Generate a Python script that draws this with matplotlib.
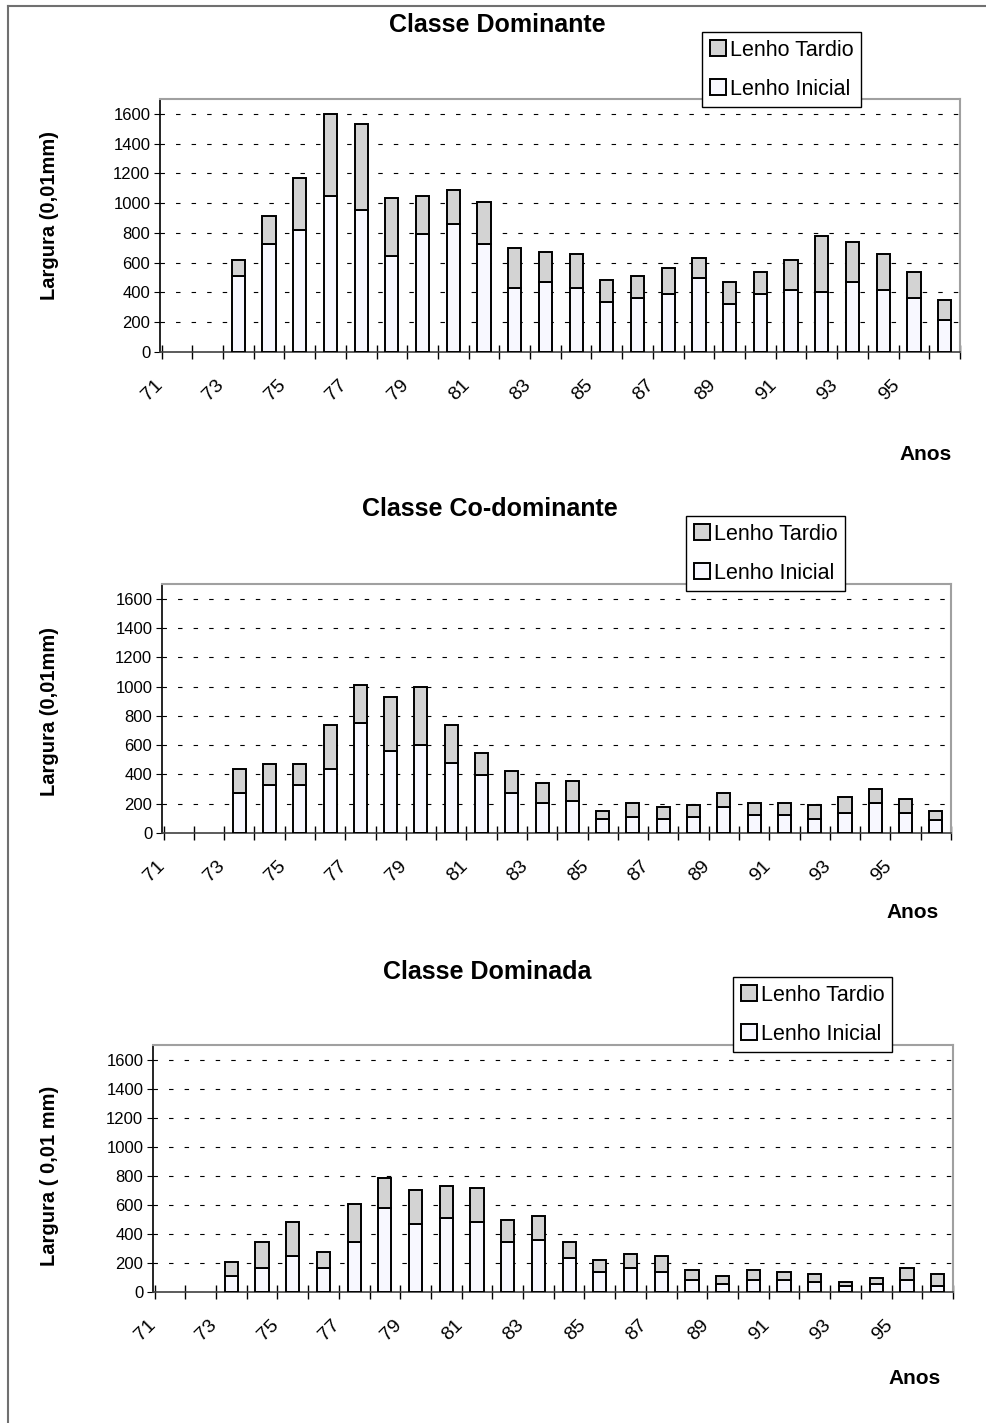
import numpy as np
import matplotlib
matplotlib.use("Agg")
import matplotlib.pyplot as plt

plt.rcParams['font.family'] = ['Liberation Sans', 'DejaVu Sans']

# anos 71..96 (71 e 72 sem medicao)
anos = list(range(71, 97))
rotulos = [str(a) if (a - 71) % 2 == 0 else '' for a in anos]

# Classe Dominante (total = inicial + tardio), 0,01 mm
dom_inicial = [None, None, 510, 725, 819, 1047, 955, 647, 792, 861, 725, 430, 472,
               430, 336, 362, 392, 497, 324, 392, 418, 403, 472, 418, 365, 215]
dom_total = [None, None, 620, 913, 1170, 1600, 1530, 1034, 1047, 1087, 1009, 700, 671,
             658, 486, 512, 564, 633, 472, 539, 618, 779, 741, 658, 539, 351]

# Classe Co-dominante
codom_inicial = [None, None, 275, 328, 328, 437, 751, 560, 601, 478, 396, 275, 207,
                 218, 98, 109, 98, 109, 178, 123, 123, 98, 139, 207, 139, 86]
codom_total = [None, None, 437, 469, 469, 740, 1010, 929, 999, 740, 546, 423, 341,
               357, 152, 207, 178, 193, 275, 207, 207, 193, 248, 303, 234, 152]

# Classe Dominada
domd_inicial = [None, None, 110, 165, 246, 165, 344, 578, 468, 510, 482, 344, 358,
                236, 140, 165, 140, 85, 57, 85, 85, 69, 41, 57, 85, 41]
domd_total = [None, None, 209, 344, 482, 275, 606, 785, 702, 730, 716, 496, 523,
              344, 220, 264, 246, 154, 112, 154, 140, 124, 71, 99, 165, 124]

W, H = 987, 1423
fig = plt.figure(figsize=(W / 100, H / 100), dpi=100)

paineis = [
    dict(titulo='Classe Dominante', ini=dom_inicial, tot=dom_total,
         box=(160, 99, 960, 352), ylab='Largura (0,01mm)', ylab_y=216,
         tit=(497, 25), anos=(926, 455), leg=(702, 32)),
    dict(titulo='Classe Co-dominante', ini=codom_inicial, tot=codom_total,
         box=(162, 584, 951, 833), ylab='Largura (0,01mm)', ylab_y=712,
         tit=(490, 509), anos=(913, 913), leg=(686, 516)),
    dict(titulo='Classe Dominada', ini=domd_inicial, tot=domd_total,
         box=(153, 1045, 953, 1292), ylab='Largura ( 0,01 mm)', ylab_y=1176,
         tit=(487, 972), anos=(915, 1378), leg=(733, 977)),
]

x = np.arange(len(anos))
for p in paineis:
    x0, y0, x1, y1 = p['box']
    ax = fig.add_axes([x0 / W, 1 - y1 / H, (x1 - x0) / W, (y1 - y0) / H])
    ini = np.array(p['ini'], dtype=float)
    tar = np.array(p['tot'], dtype=float) - ini
    b1 = ax.bar(x, ini, 0.43, color='#f8f8ff', edgecolor='black', linewidth=1.4,
                label='Lenho Inicial', zorder=3)
    b2 = ax.bar(x, tar, 0.43, bottom=ini, color='#d3d3d3', edgecolor='black',
                linewidth=1.4, label='Lenho Tardio', zorder=3)
    ax.set_xlim(-0.5, len(anos) - 0.5)
    ax.set_ylim(0, 1700)
    ax.set_yticks(range(0, 1601, 200))
    ax.yaxis.grid(True, color='black', linestyle=(0, (4, 10)), linewidth=0.8)
    ax.set_axisbelow(True)
    # rotulos um pouco a esquerda do centro da categoria, como no Excel
    ax.set_xticks(x - 0.55)
    ax.set_xticklabels(rotulos, rotation=45, ha='right', va='center',
                       rotation_mode='anchor', fontsize=14)
    ax.tick_params(axis='x', length=0, pad=22)
    ax.set_xticks(np.arange(-0.5, len(anos), 1.0), minor=True)
    ax.tick_params(axis='x', which='minor', direction='inout', length=10, width=1)
    ax.tick_params(axis='y', direction='out', length=4, labelsize=12, pad=3)
    for s in ['top', 'right']:
        ax.spines[s].set_color('#a0a0a0')
        ax.spines[s].set_linewidth(1.5)
    ax.spines['left'].set_linewidth(1.2)
    ax.spines['bottom'].set_linewidth(1.2)
    ax.spines['bottom'].set_color('#404040')

    fig.text(p['tit'][0] / W, 1 - p['tit'][1] / H, p['titulo'], ha='center',
             va='center', fontsize=18, fontweight='bold')
    fig.text(50 / W, 1 - p['ylab_y'] / H, p['ylab'], rotation=90, ha='center',
             va='center', fontsize=14.5, fontweight='bold')
    fig.text(p['anos'][0] / W, 1 - p['anos'][1] / H, 'Anos', ha='center',
             va='center', fontsize=15, fontweight='bold')
    leg = ax.legend([b2, b1], ['Lenho Tardio', 'Lenho Inicial'], loc='upper left',
                    bbox_to_anchor=(p['leg'][0] / W, 1 - p['leg'][1] / H),
                    bbox_transform=fig.transFigure, borderaxespad=0,
                    fancybox=False, framealpha=1, edgecolor='black',
                    fontsize=15.5, handlelength=0.75, handleheight=0.75,
                    handletextpad=0.2, labelspacing=0.85, borderpad=0.35)
    leg.get_frame().set_linewidth(1.0)
    leg.set_zorder(10)

# moldura da figura (so topo e esquerda visiveis)
fig.add_artist(plt.Line2D([8 / W, 8 / W], [0, 1 - 6 / H], color='#707070', lw=1.5))
fig.add_artist(plt.Line2D([8 / W, 1], [1 - 6 / H, 1 - 6 / H], color='#707070', lw=1.5))

fig.savefig('out.png', dpi=100)
